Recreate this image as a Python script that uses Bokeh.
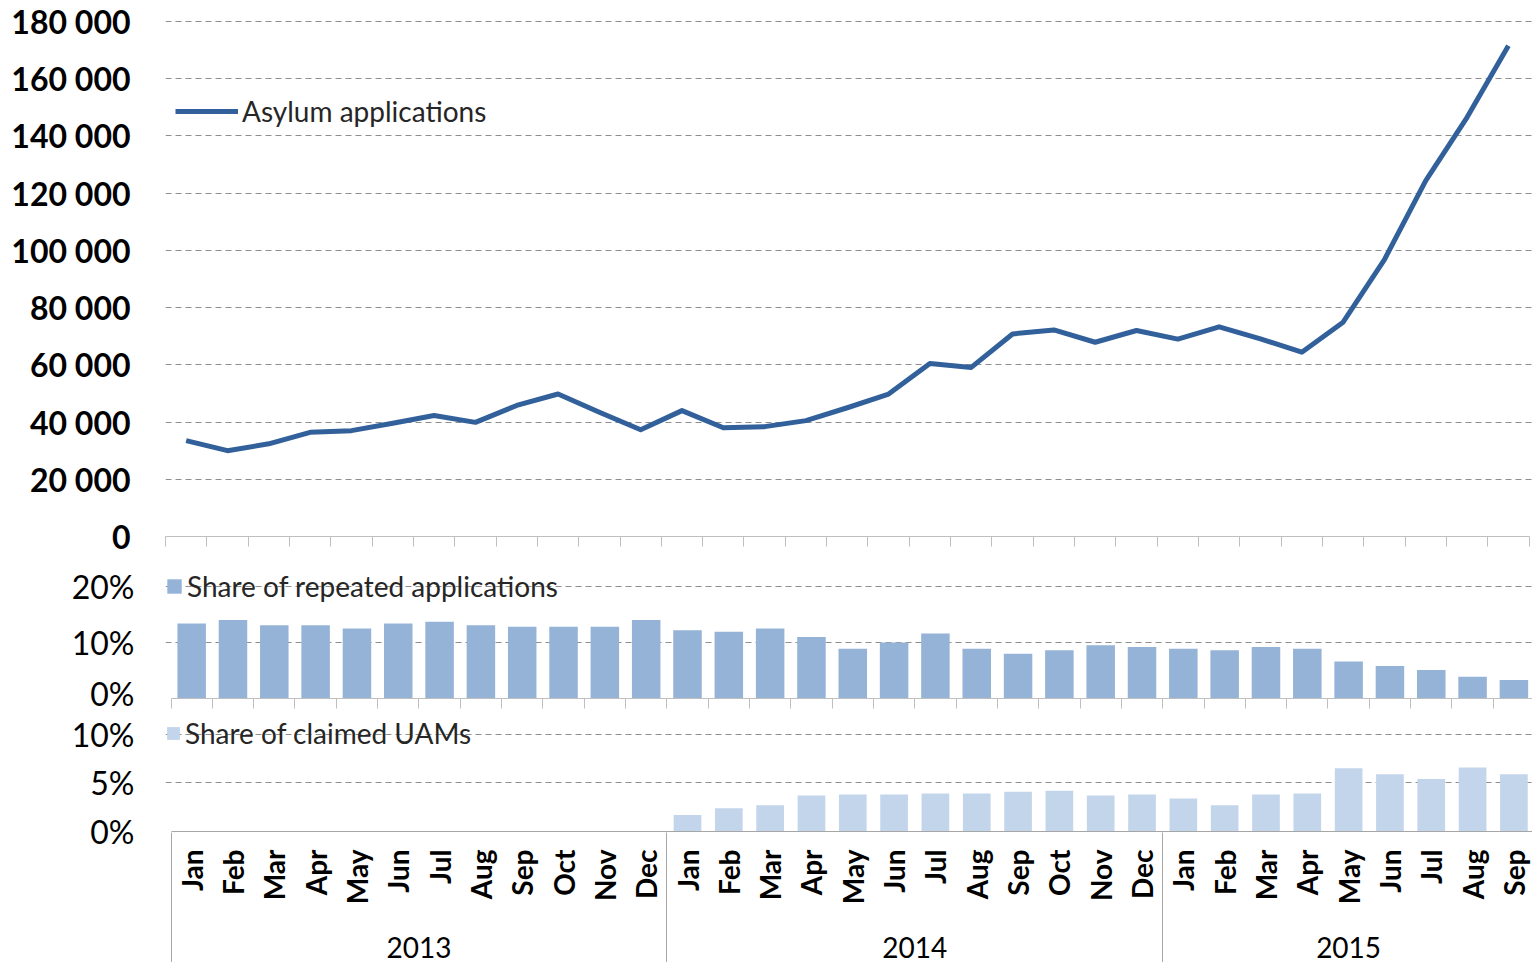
import math
from bokeh.plotting import figure
from bokeh.models import Range1d, FixedTicker, LinearAxis, Legend, LegendItem
from bokeh.layouts import column
from bokeh.embed import file_html
from bokeh.resources import INLINE

# ---------------- data ----------------
month_names = ["Jan", "Feb", "Mar", "Apr", "May", "Jun", "Jul", "Aug", "Sep", "Oct", "Nov", "Dec"]
years = ["2013", "2014", "2015"]
months_per_year = [12, 12, 9]

asylum_2013 = [33500, 30000, 32400, 36400, 37000, 39600, 42300, 39900, 45800, 49800, 43400, 37300]
asylum_2014 = [44000, 38000, 38400, 40500, 45000, 49800, 60500, 59100, 70800, 72200, 67900, 72000]
asylum_2015 = [69000, 73300, 69100, 64400, 74900, 96800, 124400, 146500, 171500]

repeated_2013 = [13.4, 14.0, 13.1, 13.1, 12.5, 13.4, 13.7, 13.1, 12.8, 12.8, 12.8, 14.0]
repeated_2014 = [12.2, 11.9, 12.5, 11.0, 8.9, 10.0, 11.6, 8.9, 8.0, 8.6, 9.5, 9.2]
repeated_2015 = [8.9, 8.6, 9.2, 8.9, 6.6, 5.8, 5.1, 3.9, 3.3]

uam_2014 = [1.7, 2.4, 2.7, 3.7, 3.8, 3.8, 3.9, 3.9, 4.1, 4.2, 3.7, 3.8]
uam_2015 = [3.4, 2.7, 3.8, 3.9, 6.5, 5.9, 5.4, 6.6, 5.9]

top_ticks = [0, 20000, 40000, 60000, 80000, 100000, 120000, 140000, 160000, 180000]
top_tick_labels = ["0", "20 000", "40 000", "60 000", "80 000", "100 000", "120 000", "140 000", "160 000", "180 000"]
mid_ticks = [0, 10, 20]
mid_tick_labels = ["0%", "10%", "20%"]
bot_ticks = [0, 5, 10]
bot_tick_labels = ["0%", "5%", "10%"]

# ---------------- derived ----------------
asylum = asylum_2013 + asylum_2014 + asylum_2015
repeated = repeated_2013 + repeated_2014 + repeated_2015
n = len(asylum)
month_labels = []
for cnt in months_per_year:
    month_labels += month_names[:cnt]
centers = [i + 0.5 for i in range(n)]
uam_x = centers[12:]
uam = uam_2014 + uam_2015

bounds = [0]
for cnt in months_per_year:
    bounds.append(bounds[-1] + cnt)
year_centers = [(bounds[i] + bounds[i + 1]) / 2 for i in range(len(years))]

FONT = "Lato"
LINE_COL = "#31609A"
BAR1 = "#95B3D7"
BAR2 = "#C3D5EB"
GRID_COL = "#8E8E8E"
AXIS_COL = "#BFBFBF"
BOX_COL = "#A6A6A6"
TXT = "#262626"

W = 1532
FRAME_LEFT = 165
FRAME_W = W - FRAME_LEFT
UNIT = 41.32            # pixels per month
SHIFT = 5.5 / UNIT      # lower panels sit slightly to the right of the top one

xr_top = Range1d(0, FRAME_W / UNIT)
xr_low = Range1d(-SHIFT, FRAME_W / UNIT - SHIFT)


def base_fig(height, top, bottom, xr, yr):
    p = figure(width=W, height=height, x_range=xr, y_range=yr,
               output_backend="svg", toolbar_location=None,
               min_border_left=FRAME_LEFT, min_border_right=0,
               min_border_top=top, min_border_bottom=bottom)
    p.outline_line_color = None
    p.xgrid.visible = False
    p.ygrid.grid_line_color = GRID_COL
    p.ygrid.grid_line_dash = "6 4"
    p.ygrid.grid_line_width = 1
    p.yaxis.axis_line_color = None
    p.yaxis.major_tick_line_color = None
    p.yaxis.minor_tick_line_color = None
    p.yaxis.major_tick_out = 0
    p.yaxis.major_tick_in = 0
    p.yaxis.major_label_text_font = FONT
    p.yaxis.major_label_text_color = "#000000"
    return p


def boundary_xaxis(p):
    ax = p.xaxis[0]
    ax.ticker = FixedTicker(ticks=[], minor_ticks=list(range(n + 1)))
    ax.bounds = (0, n)
    ax.axis_line_color = AXIS_COL
    ax.minor_tick_line_color = AXIS_COL
    ax.minor_tick_out = 10
    ax.minor_tick_in = 0
    ax.major_tick_out = 0
    ax.major_tick_in = 0
    ax.major_tick_line_color = None


def make_legend(label, renderer, loc, gw, gh):
    return Legend(items=[LegendItem(label=label, renderers=[renderer])],
                  location=loc, glyph_width=gw, glyph_height=gh, label_standoff=4,
                  padding=0, margin=0, spacing=0, border_line_alpha=0,
                  background_fill_alpha=0, label_text_font=FONT,
                  label_text_font_size="28px", label_text_color=TXT, label_height=34)


# ---------------- top panel ----------------
p1 = base_fig(560, 20, 24, xr_top, Range1d(0, 180350))
t1 = FixedTicker(ticks=top_ticks)
p1.yaxis.ticker = t1
p1.ygrid.ticker = t1
p1.yaxis.major_label_overrides = dict(zip(top_ticks, top_tick_labels))
p1.yaxis.major_label_text_font_size = "32px"
p1.yaxis.major_label_text_font_style = "bold"
p1.yaxis.major_label_standoff = 35
boundary_xaxis(p1)
r_line = p1.line(centers, asylum, line_width=5, line_color=LINE_COL, line_join="round")
p1.add_layout(make_legend("Asylum applications", r_line, (10, 408), 63, 20))

# ---------------- middle panel ----------------
p2 = base_fig(152, 8, 14, xr_low, Range1d(0, 23.21))
t2 = FixedTicker(ticks=mid_ticks)
p2.yaxis.ticker = t2
p2.ygrid.ticker = t2
p2.yaxis.major_label_overrides = dict(zip(mid_ticks, mid_tick_labels))
p2.yaxis.major_label_text_font_size = "32px"
p2.yaxis.major_label_standoff = 31
boundary_xaxis(p2)
r_bar1 = p2.vbar(x=centers, top=repeated, width=0.69, fill_color=BAR1, line_color=None)
p2.add_layout(make_legend("Share of repeated applications", r_bar1, (0, 95), 18, 18))

# ---------------- bottom panel ----------------
p3 = base_fig(250, 4, 130, xr_low, Range1d(0, 11.84))
t3 = FixedTicker(ticks=bot_ticks)
p3.yaxis.ticker = t3
p3.ygrid.ticker = t3
p3.yaxis.major_label_overrides = dict(zip(bot_ticks, bot_tick_labels))
p3.yaxis.major_label_text_font_size = "32px"
p3.yaxis.major_label_standoff = 31
r_bar2 = p3.vbar(x=uam_x, top=uam, width=0.67, fill_color=BAR2, line_color=None)
p3.add_layout(make_legend("Share of claimed UAMs", r_bar2, (0, 81), 16, 16))

mx = p3.xaxis[0]
mx.ticker = FixedTicker(ticks=centers)
mx.bounds = (0, n)
mx.major_label_overrides = dict(zip(centers, month_labels))
mx.major_label_orientation = math.pi / 2
mx.major_label_text_font = FONT
mx.major_label_text_font_style = "bold"
mx.major_label_text_font_size = "28px"
mx.major_label_text_color = "#000000"
mx.major_label_standoff = 18
mx.major_tick_out = 0
mx.major_tick_in = 0
mx.major_tick_line_color = None
mx.minor_tick_line_color = None
mx.axis_line_color = BOX_COL

yx = LinearAxis(ticker=FixedTicker(ticks=year_centers),
                major_label_overrides=dict(zip(year_centers, years)))
yx.axis_line_color = None
yx.major_tick_line_color = None
yx.minor_tick_line_color = None
yx.major_tick_out = 0
yx.major_tick_in = 0
yx.major_label_standoff = 29
yx.major_label_text_font = FONT
yx.major_label_text_font_size = "28px"
yx.major_label_text_color = "#000000"
p3.add_layout(yx, "below")

# group separators: long inward ticks of an unlabeled bottom axis
sx = LinearAxis(ticker=FixedTicker(ticks=[], minor_ticks=bounds[:-1]))
sx.axis_line_color = None
sx.major_tick_line_color = None
sx.major_tick_out = 0
sx.major_tick_in = 0
sx.major_label_standoff = 0
sx.minor_tick_line_color = BOX_COL
sx.minor_tick_in = 128
sx.minor_tick_out = 2
p3.add_layout(sx, "below")

layout = column(p1, p2, p3, spacing=0)
open("out.html", "w").write(file_html(layout, INLINE))
